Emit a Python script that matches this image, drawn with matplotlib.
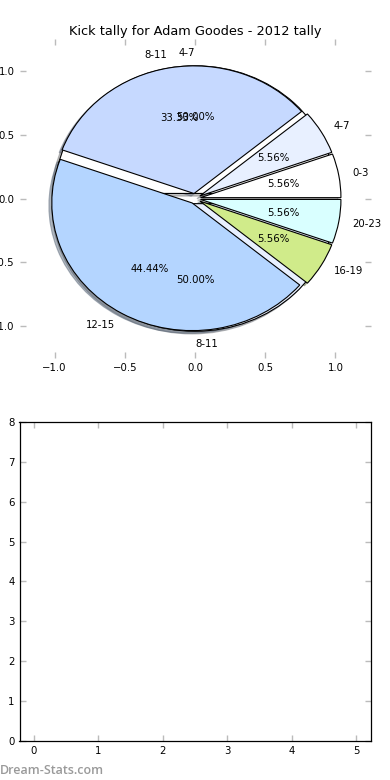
import numpy as np
import matplotlib
matplotlib.use('Agg')
import matplotlib.pyplot as plt

title = 'Kick tally for Adam Goodes - 2012 tally'

# first pie (drawn underneath)
labels_a = ['4-7', '8-11']
values_a = [1, 1]

# second pie, kicks per time bucket
labels_b = ['0-3', '4-7', '8-11', '12-15', '16-19', '20-23']
values_b = [1, 1, 6, 8, 1, 1]

colors = ['#ffffff', '#e8f0ff', '#c6d9ff', '#b4d5ff', '#d0eb8a', '#d9ffff']

plt.rcParams['font.family'] = 'DejaVu Sans'
plt.rcParams['font.size'] = 7.3

fig = plt.figure(figsize=(3.9, 7.8), dpi=100)
fig.subplots_adjust(left=0.05, right=0.95, bottom=0.05, top=0.95, hspace=0.2)

ax1 = fig.add_subplot(2, 1, 1)
wp = {'edgecolor': 'black', 'linewidth': 0.8}
shad = {'ox': -0.015, 'oy': -0.015, 'shade': 0.55, 'alpha': 0.45}
ax1.pie(values_a, labels=labels_a, colors=colors[:len(values_a)],
        explode=[0.04] * len(values_a), autopct='%1.2f%%', shadow=shad,
        startangle=0, wedgeprops=wp)
ax1.pie(values_b, labels=labels_b, colors=colors,
        explode=[0.04] * len(values_b), autopct='%1.2f%%', shadow=shad,
        startangle=0, wedgeprops=wp)
ax1.set_aspect('auto')
ax1.set_frame_on(False)
ax1.set_xlim(-1.25, 1.25)
ax1.set_ylim(-1.25, 1.25)
ax1.set_xticks(np.arange(-1.0, 1.01, 0.5))
ax1.set_yticks(np.arange(-1.0, 1.01, 0.5))
ax1.tick_params(direction='in', top=True, right=True, length=4,
                width=1, color='#bbbbbb', labelsize=7.3)
ax1.set_title(title, fontsize=9.3, pad=3)

ax2 = fig.add_subplot(2, 1, 2)
ax2.set_xlim(-0.225, 5.225)
ax2.set_ylim(0, 8)
ax2.set_xticks(range(6))
ax2.set_yticks(range(9))
ax2.tick_params(direction='in', top=True, right=True, length=4,
                width=1, color='#bbbbbb', labelsize=7.3)
for s in ax2.spines.values():
    s.set_linewidth(0.9)

fig.text(0.0, 0.004, 'Dream-Stats.com', color='#9a9a9a', fontsize=9,
         family='Open Sans', weight='semibold', ha='left', va='bottom')

fig.savefig('out.png', dpi=100)
